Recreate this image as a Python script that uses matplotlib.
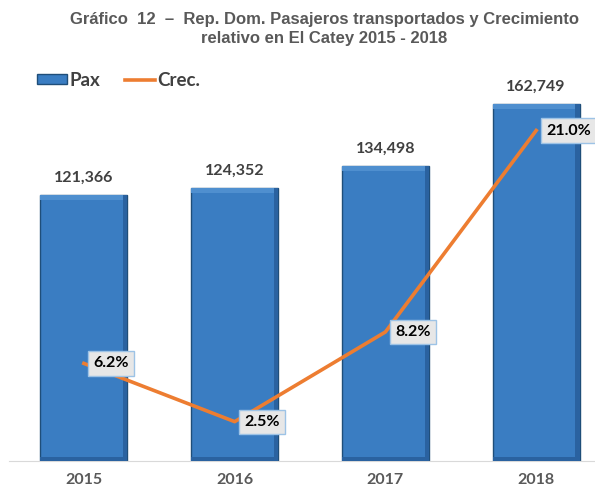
import numpy as np
import matplotlib
matplotlib.use("Agg")
from matplotlib import pyplot as plt
from matplotlib.patches import Rectangle
from matplotlib.lines import Line2D

years = ["2015", "2016", "2017", "2018"]
pax = [121366, 124352, 134498, 162749]
crec = [6.2, 2.5, 8.2, 21.0]

BAR_BLUE = "#3A7DC2"
BAR_EDGE = "#1F4E79"
ORANGE = "#ED7D31"
GRAY = "#595959"
DARK = "#404040"

plt.rcParams["font.family"] = ["Lato", "DejaVu Sans"]

fig = plt.figure(figsize=(5.95, 4.91), dpi=100)
W, H = 595, 491
ax = fig.add_axes([8.5 / W, 1 - 461 / H, (595 - 8.5) / W, (461 - 77) / H])
ax2 = ax.twinx()

x = np.arange(len(years))
bars = ax.bar(x, pax, width=0.576, color=BAR_BLUE, edgecolor=BAR_EDGE,
              linewidth=1.0, zorder=2)

# rough bevel: light strip on top, dark strip on right/bottom
for b in bars:
    bx, by = b.get_x(), b.get_y()
    bw, bh = b.get_width(), b.get_height()
    ax.add_patch(Rectangle((bx, by + bh - 2200), bw, 2200, color="#4F8FCF",
                           lw=0, zorder=3))
    ax.add_patch(Rectangle((bx + bw * 0.95, by), bw * 0.05, bh, color="#2A62A0",
                           lw=0, zorder=3))
    ax.add_patch(Rectangle((bx, by), bw, 1800, color="#2A62A0", lw=0, zorder=3))
    ax.text(bx + bw / 2, bh + 4500, f"{int(bh):,}", ha="center", va="bottom",
            fontsize=11.5, fontweight="bold", color=DARK)

ax.set_xlim(-0.5, 3.39)
ax.set_ylim(0, 175000)
ax.set_yticks([])
ax.set_xticks(x)
ax.set_xticklabels(years, fontsize=11.5, fontweight="bold", color=GRAY)
ax.tick_params(axis="x", length=0, pad=9)
for s in ["top", "right", "left"]:
    ax.spines[s].set_visible(False)
ax.spines["bottom"].set_color("#D9D9D9")

ax2.plot(x, crec, color=ORANGE, linewidth=2.6, zorder=4)
ax2.set_ylim(0, 24.4)
ax2.set_yticks([])
for s in ["top", "right", "left", "bottom"]:
    ax2.spines[s].set_visible(False)
for xi, v in zip(x, crec):
    ax2.annotate(f"{v:.1f}%", (xi, v), xytext=(7, 0), textcoords="offset points",
                 ha="left", va="center", fontsize=11.5, fontweight="bold",
                 color="black",
                 bbox=dict(boxstyle="square,pad=0.32", fc="#E7E7E7",
                           ec="#9DC3E6", lw=1), zorder=5)

fig.text(0.545, 0.975, "Gráfico  12  –  Rep. Dom. Pasajeros transportados y Crecimiento\nrelativo en El Catey 2015 - 2018",
         ha="center", va="top", fontsize=12, fontweight="bold", color=GRAY,
         family=["Liberation Sans", "DejaVu Sans"], linespacing=1.35)

handles = [Rectangle((0, 0), 1, 1, fc=BAR_BLUE, ec=BAR_EDGE, lw=1.0),
           Line2D([0], [0], color=ORANGE, lw=2.6)]
fig.legend(handles, ["Pax", "Crec."], loc="center left",
           bbox_to_anchor=(20 / W, 1 - 80 / H), ncol=2, frameon=False,
           prop={"size": 13.5, "weight": "bold"}, labelcolor=DARK,
           handlelength=1.6, handleheight=0.5, handletextpad=0.15,
           columnspacing=1.3)

fig.savefig("out.png", dpi=100)
